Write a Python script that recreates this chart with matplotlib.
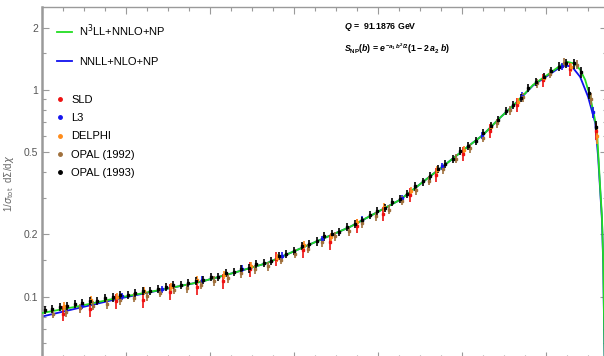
import matplotlib
matplotlib.use("Agg")
import matplotlib.pyplot as plt
from matplotlib.lines import Line2D
from matplotlib.ticker import FixedLocator, MultipleLocator, NullFormatter

plt.rcParams['font.family'] = ['Liberation Sans', 'DejaVu Sans']
plt.rcParams['mathtext.fontset'] = 'custom'
plt.rcParams['mathtext.rm'] = 'Liberation Sans:bold'
plt.rcParams['mathtext.it'] = 'Liberation Sans:italic:bold'
plt.rcParams['mathtext.bf'] = 'Liberation Sans:bold'

# ---- theory curves (chi in degrees) ----
n3ll_x = [40.0, 49.0, 57.9, 68.1, 77.6, 85.5, 93.6, 100.7, 113.3, 125.2, 137.1, 141.9,
          145.0, 149.0, 153.1, 156.9, 161.0, 163.3, 165.0, 166.9, 168.1, 169.3, 170.5,
          171.4, 172.1, 172.4, 172.9, 173.3, 173.6, 173.8, 174.0]
n3ll_y = [0.0834, 0.0902, 0.0986, 0.1078, 0.1178, 0.1302, 0.1455, 0.1682, 0.2174, 0.2937,
          0.4534, 0.5418, 0.6058, 0.7318, 0.8748, 1.057, 1.208, 1.306, 1.366, 1.336, 1.250,
          1.118, 0.925, 0.757, 0.641, 0.496, 0.33, 0.243, 0.150, 0.0772, 0.0395]

nnll_x = [40.0, 57.9, 77.6, 85.5, 93.6, 100.7, 113.3, 125.2, 137.1, 141.9, 145.0, 149.0,
          153.1, 156.9, 161.0, 163.3, 164.5, 166.2, 168.1, 170.0, 171.7, 172.4, 172.9,
          173.3, 173.6, 173.8, 174.0]
nnll_y = [0.0802, 0.0975, 0.1178, 0.1302, 0.1455, 0.1682, 0.2174, 0.2937, 0.4534, 0.5418,
          0.6058, 0.7318, 0.8748, 1.050, 1.195, 1.285, 1.314, 1.292, 1.156, 0.925, 0.692,
          0.47, 0.32, 0.235, 0.145, 0.075, 0.038]

# ---- data ----
sld_x = [45.0, 51.4, 57.7, 64.1, 70.4, 76.8, 83.1, 89.5, 95.8, 102.2, 108.5, 114.9, 121.2,
         127.6, 133.9, 140.3, 146.6, 153.0, 159.3, 165.7, 172.0]
sld_y = [0.0829, 0.0870, 0.0952, 0.0967, 0.1058, 0.1111, 0.1187, 0.1362, 0.1523, 0.1682,
         0.1835, 0.2194, 0.2518, 0.3105, 0.3868, 0.4901, 0.6331, 0.8449, 1.1105, 1.259, 0.629]
sld_e = [0.0070, 0.0075, 0.0080, 0.0085, 0.0090, 0.0095, 0.0100, 0.0110, 0.0120, 0.0135,
         0.0150, 0.0170, 0.0200, 0.0240, 0.0300, 0.0380, 0.0480, 0.0640, 0.0840, 0.0950, 0.0600]

l3_x = [49.5, 59.0, 68.6, 78.1, 87.6, 97.1, 106.7, 116.2, 125.7, 135.2, 144.8, 154.3, 163.8, 171.2]
l3_y = [0.0910, 0.1003, 0.1084, 0.1209, 0.1368, 0.1581, 0.1898, 0.2359, 0.2987, 0.4271,
        0.6007, 0.9375, 1.297, 0.78]
l3_e = [0.0036, 0.0040, 0.0043, 0.0048, 0.0055, 0.0063, 0.0076, 0.0094, 0.0120, 0.0170,
        0.0240, 0.0375, 0.0520, 0.0470]

delphi_x = [45.2, 51.6, 57.9, 64.3, 70.6, 77.0, 83.3, 89.7, 96.0, 102.4, 108.7, 115.1, 121.4,
            127.8, 134.1, 140.5, 146.8, 153.2, 159.5, 165.9, 172.2]
delphi_y = [0.0899, 0.0963, 0.1001, 0.1071, 0.1113, 0.1204, 0.1276, 0.1404, 0.1538, 0.1769,
            0.1950, 0.2285, 0.2704, 0.3233, 0.4110, 0.5105, 0.6592, 0.8710, 1.1448, 1.286, 0.600]
delphi_e = [0.0040, 0.0043, 0.0045, 0.0048, 0.0050, 0.0054, 0.0057, 0.0063, 0.0069, 0.0080,
            0.0088, 0.0103, 0.0122, 0.0145, 0.0185, 0.0230, 0.0300, 0.0390, 0.0520, 0.0600, 0.0500]

opal92_x = [42.6, 45.8, 49.0, 52.2, 55.4, 58.6, 61.8, 65.0, 68.2, 71.4, 74.6, 77.8, 81.0, 84.2,
            87.4, 90.6, 93.8, 97.0, 100.2, 103.4, 106.6, 109.8, 113.0, 116.2, 119.4, 122.6,
            125.8, 129.0, 132.2, 135.4, 138.6, 141.8, 145.0, 148.2, 151.4, 154.6, 157.8, 161.0,
            164.2, 167.4, 170.6]
opal92_y = [0.0828, 0.0844, 0.0879, 0.0905, 0.0923, 0.0959, 0.0988, 0.1007, 0.1048, 0.1080,
            0.1100, 0.1145, 0.1193, 0.1230, 0.1297, 0.1355, 0.1404, 0.1513, 0.1614, 0.1706,
            0.1839, 0.1961, 0.2073, 0.2266, 0.2458, 0.2637, 0.2908, 0.3265, 0.3631, 0.4125,
            0.4644, 0.5236, 0.5876, 0.6890, 0.7962, 0.9237, 1.0785, 1.1983, 1.3502, 1.3252, 0.9020]
opal92_e = [0.0041, 0.0042, 0.0044, 0.0045, 0.0046, 0.0048, 0.0049, 0.0050, 0.0052, 0.0054,
            0.0055, 0.0057, 0.0060, 0.0062, 0.0065, 0.0068, 0.0070, 0.0076, 0.0081, 0.0085,
            0.0092, 0.0098, 0.0104, 0.0113, 0.0123, 0.0132, 0.0145, 0.0163, 0.0182, 0.0206,
            0.0232, 0.0262, 0.0294, 0.034, 0.040, 0.046, 0.054, 0.060, 0.068, 0.070, 0.060]

opal93_x = [40.6, 42.4, 44.2, 46.0, 47.8, 49.6, 51.4, 53.2, 55.0, 56.8, 58.6, 60.4, 62.2, 64.0,
            65.8, 67.6, 69.4, 71.2, 73.0, 74.8, 76.6, 78.4, 80.2, 82.0, 83.8, 85.6, 87.4, 89.2,
            91.0, 92.8, 94.6, 96.4, 98.2, 100.0, 101.8, 103.6, 105.4, 107.2, 109.0, 110.8,
            112.6, 114.4, 116.2, 118.0, 119.8, 121.6, 123.4, 125.2, 127.0, 128.8, 130.6, 132.4,
            134.2, 136.0, 137.8, 139.6, 141.4, 143.2, 145.0, 146.8, 148.6, 150.4, 152.2, 154.0,
            155.8, 157.6, 159.4, 161.2, 163.0, 164.8, 166.6, 168.4, 170.2, 172.0]
opal93_y = [0.0863, 0.0869, 0.0893, 0.0899, 0.0923, 0.0929, 0.0954, 0.0950, 0.0986, 0.0992,
            0.1019, 0.1016, 0.1043, 0.1070, 0.1068, 0.1095, 0.1114, 0.1143, 0.1140, 0.1171,
            0.1190, 0.1202, 0.1241, 0.1246, 0.1301, 0.1318, 0.1364, 0.1371, 0.1433, 0.1455,
            0.1486, 0.1573, 0.1615, 0.1658, 0.1755, 0.1802, 0.1851, 0.1957, 0.2011, 0.2065,
            0.2184, 0.2256, 0.2336, 0.2495, 0.2586, 0.2678, 0.2860, 0.2962, 0.3132, 0.3412,
            0.3606, 0.3814, 0.4153, 0.4392, 0.4650, 0.5071, 0.5372, 0.5675, 0.6179, 0.6658,
            0.7165, 0.7926, 0.8492, 0.9150, 1.021, 1.093, 1.148, 1.230, 1.293, 1.345, 1.341,
            1.214, 0.968, 0.662]
opal93_e = [0.0039, 0.0039, 0.0040, 0.0040, 0.0042, 0.0042, 0.0043, 0.0043, 0.0044, 0.0045,
            0.0046, 0.0046, 0.0047, 0.0048, 0.0048, 0.0049, 0.0050, 0.0051, 0.0051, 0.0053,
            0.0054, 0.0054, 0.0056, 0.0056, 0.0059, 0.0059, 0.0061, 0.0062, 0.0064, 0.0065,
            0.0067, 0.0071, 0.0073, 0.0075, 0.0079, 0.0081, 0.0083, 0.0088, 0.0090, 0.0093,
            0.0098, 0.0102, 0.0105, 0.0112, 0.0116, 0.0121, 0.0129, 0.0133, 0.0141, 0.0154,
            0.0162, 0.0172, 0.0187, 0.0198, 0.0209, 0.0228, 0.0242, 0.0255, 0.0278, 0.0300,
            0.0322, 0.036, 0.038, 0.041, 0.046, 0.049, 0.052, 0.058, 0.065, 0.070, 0.075,
            0.075, 0.060, 0.045]

W, H = 604, 356
fig = plt.figure(figsize=(W / 100, H / 100), dpi=100)
ax = fig.add_axes([42 / W, 1 - 359 / H, 565 / W, (359 - 7.5) / H])
ax.set_yscale('log')
ax.set_xlim(40, 174.5)
ax.set_ylim(0.05, 2.5)

green = '#22dd22'
blue = '#1010ee'
ax.plot(n3ll_x, n3ll_y, color=green, lw=1.3, zorder=3)
ax.plot(nnll_x, nnll_y, color=blue, lw=1.3, zorder=2)

datasets = [
    (sld_x, sld_y, sld_e, '#ee1111', 'SLD'),
    (l3_x, l3_y, l3_e, '#1515ee', 'L3'),
    (delphi_x, delphi_y, delphi_e, '#ff8c1a', 'DELPHI'),
    (opal92_x, opal92_y, opal92_e, '#a0703c', 'OPAL (1992)'),
    (opal93_x, opal93_y, opal93_e, '#000000', 'OPAL (1993)'),
]
for x, y, e, c, lab in datasets:
    ax.errorbar(x, y, yerr=e, fmt='s', ms=1.7, color=c, ecolor=c, elinewidth=1.2,
                capsize=0, zorder=4)

spine_c = '#9a9a9a'
for s in ax.spines.values():
    s.set_color(spine_c)
    s.set_linewidth(1.0)
ax.spines['left'].set_linewidth(1.8)

ax.xaxis.set_major_locator(MultipleLocator(20))
ax.xaxis.set_minor_locator(MultipleLocator(5))
ax.xaxis.set_major_formatter(NullFormatter())
ax.yaxis.set_minor_locator(FixedLocator([0.06, 0.07, 0.08, 0.09, 0.15, 0.3, 0.4, 0.6,
                                         0.7, 0.8, 0.9, 1.5]))
ax.set_yticks([0.1, 0.2, 0.5, 1, 2])
ax.set_yticklabels(['0.1', '0.2', '0.5', '1', '2'])
ax.yaxis.set_minor_formatter(NullFormatter())
ax.tick_params(which='both', direction='in', top=True, right=True, color=spine_c,
               width=0.8, labelsize=7.5, labelcolor='#555555', pad=3)
ax.tick_params(which='major', length=5)
ax.tick_params(which='minor', length=2.8)

ax.set_ylabel(r'1/$\sigma_{\mathrm{tot}}$  d$\Sigma$/d$\chi$', fontsize=7, color='#666666',
              math_fontfamily='dejavusans', labelpad=5)

# legends
h1 = [Line2D([], [], color=green, lw=1.3), Line2D([], [], color=blue, lw=1.3)]
leg1 = ax.legend(h1, ['N$^{3}$LL+NNLO+NP', 'NNLL+NLO+NP'], loc='upper left',
                 bbox_to_anchor=(0.008, 0.985), frameon=False, fontsize=8,
                 handlelength=1.4, handletextpad=0.6, labelspacing=1.6)
for t in leg1.get_texts():
    t.set_math_fontfamily('dejavusans')
ax.add_artist(leg1)
h2 = [Line2D([], [], color=d[3], marker='o', ms=2.5, lw=0) for d in datasets]
ax.legend(h2, [d[4] for d in datasets], loc='upper left', bbox_to_anchor=(0.005, 0.78),
          frameon=False, fontsize=8, handlelength=1.0, handletextpad=0.5,
          labelspacing=0.75)

ax.text(0.535, 0.945, r'$Q$ =  91.1876 GeV', transform=ax.transAxes, fontsize=6.3,
        fontweight='bold', ha='left', va='center')
ax.text(0.535, 0.88, r'$S_{\mathrm{NP}}(b)$ = $e^{-a_1\, b^2/2}(1-2\,a_2\;b)$',
        transform=ax.transAxes, fontsize=6.3, fontweight='bold', ha='left', va='center')

fig.savefig('out.png', dpi=100)
